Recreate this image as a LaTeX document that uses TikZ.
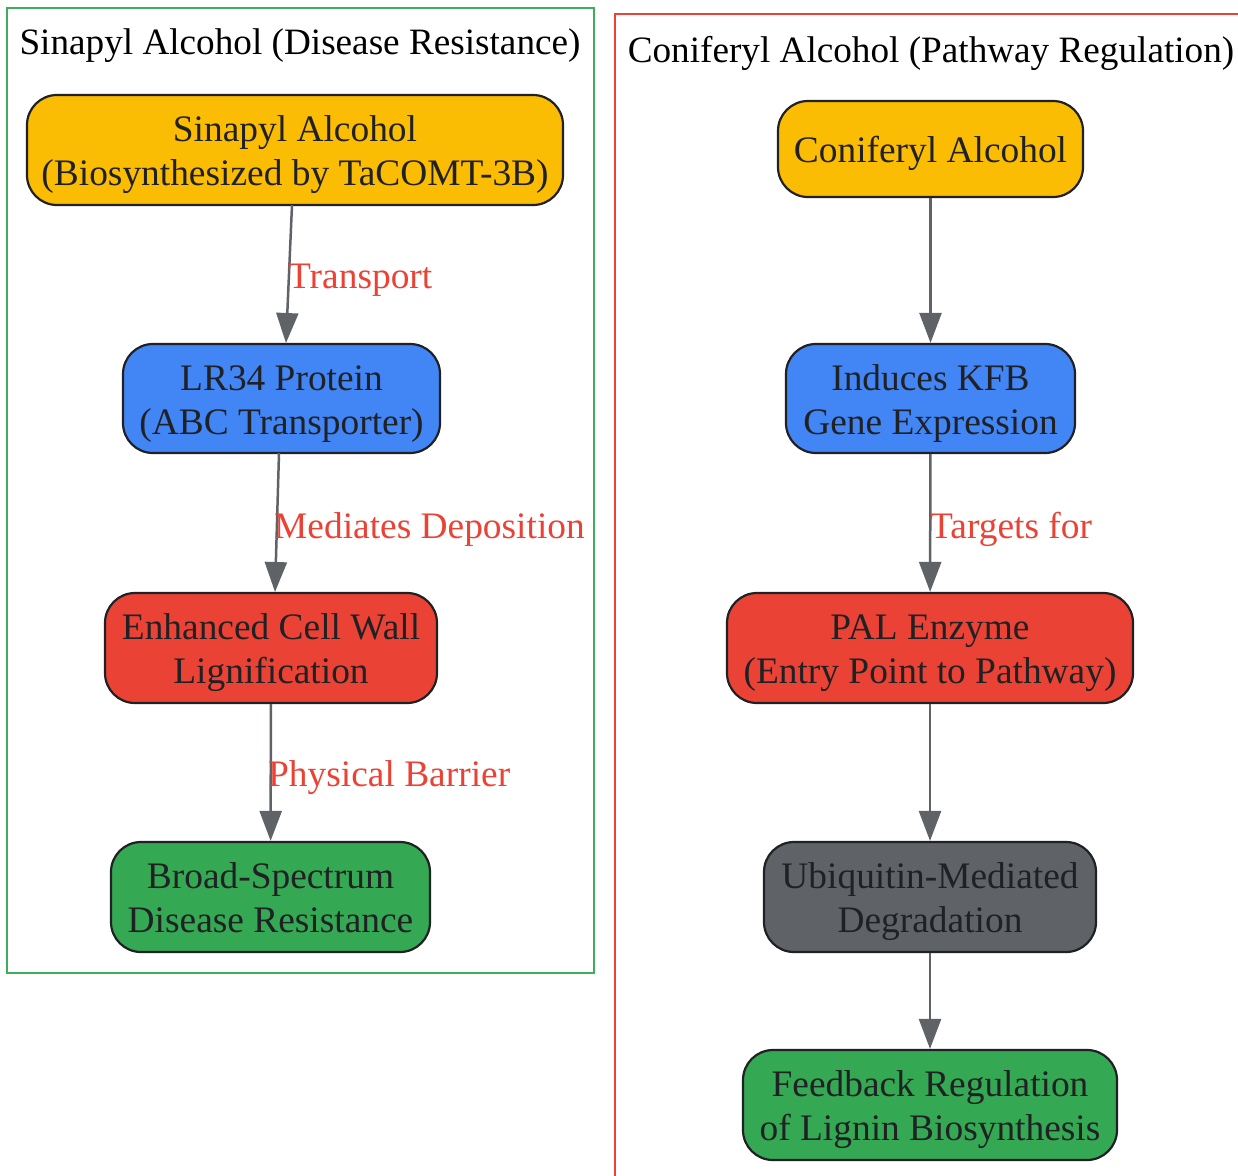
\documentclass[tikz,border=0pt]{standalone}
\usepackage{fontspec}
\setmainfont{Liberation Serif}
\usetikzlibrary{arrows.meta}
\definecolor{gyellow}{HTML}{FBBC04}
\definecolor{gblue}{HTML}{4285F4}
\definecolor{gred}{HTML}{EA4335}
\definecolor{ggreen}{HTML}{34A853}
\definecolor{ggrey}{HTML}{5F6368}
\definecolor{gdark}{HTML}{202124}
\definecolor{clgreen}{HTML}{3DAE5A}
\newcommand{\boxtext}[1]{\raisebox{-5pt}[\height][\depth]{\begin{tabular}{@{}c@{}}#1\end{tabular}}}
\tikzset{
  box/.style={draw=gdark, line width=2.2pt, rounded corners=30pt,
    text=gdark, inner sep=0pt, font=\fontsize{37.4}{44}\selectfont},
  conn/.style={draw=ggrey, line width=2.5pt, -{Triangle[width=22pt,length=30pt]}},
  elabel/.style={text=gred, anchor=west, inner sep=0pt, font=\fontsize{37.4}{44}\selectfont},
  ctitle/.style={text=black, inner sep=0pt, font=\fontsize{37.2}{44}\selectfont}
}
\begin{document}
\begin{tikzpicture}[x=1pt,y=-1pt]
\useasboundingbox (0,0) rectangle (1238,1175);
% clusters
\draw[draw=clgreen, line width=2.2pt] (7,8) rectangle (594,973);
\draw[draw=gred, line width=2.2pt] (1240,14) -- (615,14) -- (615,1177);
\node[ctitle] (t1) at (300,46) {Sinapyl Alcohol (Disease Resistance)};
\node[ctitle] (t2) at (931,53) {Coniferyl Alcohol (Pathway Regulation)};
% left nodes
\node[box, fill=gyellow, minimum width=536pt, minimum height=110pt] (n1) at (295,150) {\boxtext{Sinapyl Alcohol\\(Biosynthesized by TaCOMT-3B)}};
\node[box, fill=gblue, minimum width=317pt, minimum height=109pt] (n2) at (281.5,398.5) {\boxtext{LR34 Protein\\(ABC Transporter)}};
\node[box, fill=gred, minimum width=332pt, minimum height=110pt] (n3) at (271,648) {\boxtext{Enhanced Cell Wall\\Lignification}};
\node[box, fill=ggreen, minimum width=319pt, minimum height=110pt] (n4) at (270.5,897) {\boxtext{Broad-Spectrum\\Disease Resistance}};
% right nodes
\node[box, fill=gyellow, minimum width=305pt, minimum height=96pt] (r1) at (930.5,149) {\boxtext{Coniferyl Alcohol}};
\node[box, fill=gblue, minimum width=289pt, minimum height=109pt] (r2) at (930.5,398.5) {\boxtext{Induces KFB\\Gene Expression}};
\node[box, fill=gred, minimum width=406pt, minimum height=110pt] (r3) at (930,648) {\boxtext{PAL Enzyme\\(Entry Point to Pathway)}};
\node[box, fill=ggrey, minimum width=332pt, minimum height=110pt] (r4) at (930,897) {\boxtext{Ubiquitin-Mediated\\Degradation}};
\node[box, fill=ggreen, minimum width=374pt, minimum height=110pt] (r5) at (930,1105) {\boxtext{Feedback Regulation\\of Lignin Biosynthesis}};
% connectors
\coordinate (a1) at (292,205); \coordinate (b1) at (286,343);
\coordinate (a2) at (279,453); \coordinate (b2) at (275,592);
\draw[conn] (a1) -- (b1);
\draw[conn] (a2) -- (b2);
\draw[conn] (n3) -- (n4);
\draw[conn] (r1) -- (r2);
\draw[conn] (r2) -- (r3);
\draw[conn] (r3) -- (r4);
\draw[conn] (r4) -- (r5);
\node[elabel] (l1) at (288,280) {Transport};
\node[elabel] (l2) at (274,529) {Mediates Deposition};
\node[elabel] (l3) at (268,778) {Physical Barrier};
\node[elabel] (l4) at (930,529) {Targets for};
\end{tikzpicture}
\end{document}
